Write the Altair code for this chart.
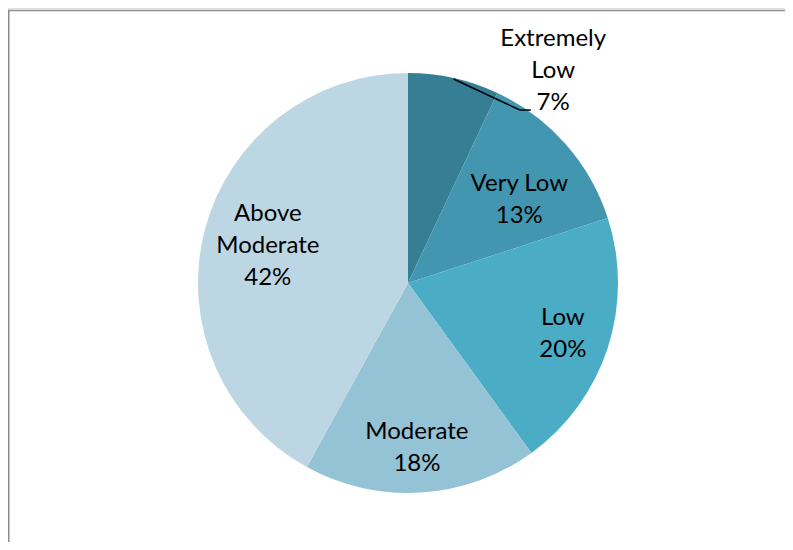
import altair as alt
import pandas as pd

# ---- data ----
categories = ["Extremely Low", "Very Low", "Low", "Moderate", "Above Moderate"]
shares = [7, 13, 20, 18, 42]
label_names = ["Extremely\nLow", "Very Low", "Low", "Moderate", "Above\nModerate"]
colors = ["#357E94", "#4296B0", "#4BACC6", "#93C3D5", "#BCD7E3"]

# ---- layout / style ----
W, H = 777, 534
CX, CY = 400, 275
R = 210
FONT = "Lato"
FS = 24
LH = 32

# label placement (polar radius in px, angle shift in degrees from slice middle)
lab_r = {"Extremely Low": 257, "Very Low": 139, "Low": 163, "Moderate": 165, "Above Moderate": 145}
lab_shift = {"Extremely Low": 21.8, "Very Low": 4.6, "Low": 0.2, "Moderate": 0.5, "Above Moderate": 0.4}


def lookup(d):
    expr = "0"
    for k, v in d.items():
        expr = f"(datum.category == '{k}' ? {v} : {expr})"
    return expr


df = pd.DataFrame({
    "category": categories,
    "share": shares,
    "name": label_names,
    "order": list(range(len(categories))),
})

base = alt.Chart(df)

pie = base.mark_arc(radius=R, strokeWidth=0).encode(
    theta=alt.Theta("share:Q", stack=True),
    order=alt.Order("order:Q"),
    color=alt.Color("category:N", scale=alt.Scale(domain=categories, range=colors), legend=None),
    x=alt.value(CX),
    y=alt.value(CY),
)

geo = base.transform_joinaggregate(
    total="sum(share)"
).transform_window(
    cum="sum(share)", sort=[alt.SortField("order")], frame=[None, 0]
).transform_calculate(
    mid="2*PI*(datum.cum - datum.share/2)/datum.total",
)

labels = geo.transform_calculate(
    la=f"datum.mid + ({lookup(lab_shift)})*PI/180",
    lr=lookup(lab_r),
    txt="datum.name + '\\n' + datum.share + '%'",
).transform_calculate(
    nlines="split(datum.txt, '\\n').length",
).transform_calculate(
    lx=f"{CX} + datum.lr*sin(datum.la)",
    ly=f"{CY} - datum.lr*cos(datum.la) - (datum.nlines - 1)*{LH}/2",
).mark_text(
    font=FONT, fontSize=FS, lineHeight=LH, lineBreak="\n",
    align="center", baseline="middle", color="black",
).encode(
    x=alt.X("lx:Q", scale=None, axis=None),
    y=alt.Y("ly:Q", scale=None, axis=None),
    text="txt:N",
)

leader_pts = geo.transform_filter(
    "datum.category == 'Extremely Low'"
).transform_calculate(
    x1=f"{CX} + {R - 1}*sin(datum.mid)",
    y1=f"{CY} - {R - 1}*cos(datum.mid)",
    x2=f"{CX} + 206*sin(32.9*PI/180)",
    y2=f"{CY} - 206*cos(32.9*PI/180)",
).transform_calculate(
    x3="datum.x2 + 11",
)

leader1 = leader_pts.mark_rule(color="black", strokeWidth=1.5).encode(
    x=alt.X("x1:Q", scale=None, axis=None),
    y=alt.Y("y1:Q", scale=None, axis=None),
    x2="x2:Q",
    y2="y2:Q",
)
leader2 = leader_pts.mark_rule(color="black", strokeWidth=1.5).encode(
    x=alt.X("x2:Q", scale=None, axis=None),
    y=alt.Y("y2:Q", scale=None, axis=None),
    x2="x3:Q",
)

frame_df = pd.DataFrame({"k": [0]})
frame_top = alt.Chart(frame_df).mark_rule(color="#8c8c8c", strokeWidth=1.5).encode(
    x=alt.value(0), x2=alt.value(W), y=alt.value(2.5)
)
frame_left = alt.Chart(frame_df).mark_rule(color="#8c8c8c", strokeWidth=1.5).encode(
    x=alt.value(0.75), y=alt.value(2), y2=alt.value(H)
)

chart = alt.layer(frame_top, frame_left, pie, leader1, leader2, labels).properties(
    width=W, height=H,
    autosize=alt.AutoSizeParams(type="none"),
    padding=0,
).configure_view(stroke="transparent").configure(background="white")

chart.save("out.html", embed_options={"renderer": "svg", "actions": False})
